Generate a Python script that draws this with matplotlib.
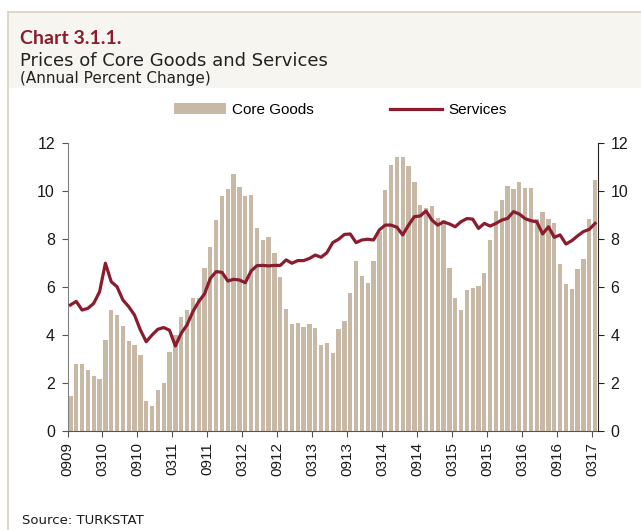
import matplotlib
matplotlib.use("Agg")
import matplotlib.pyplot as plt
from matplotlib.patches import Rectangle, Patch
from matplotlib.lines import Line2D

# monthly data, 2009-09 .. 2017-03
core_goods = [1.45, 2.78, 2.78, 2.55, 2.30, 2.15, 3.80, 5.05, 4.85, 4.38,
              3.75, 3.58, 3.18, 1.25, 1.04, 1.70, 2.00, 3.30, 4.00, 4.75,
              5.05, 5.55, 5.55, 6.78, 7.65, 8.80, 9.80, 10.10, 10.70, 10.15,
              9.80, 9.85, 8.45, 7.95, 8.10, 7.40, 6.40, 5.07, 4.45, 4.50,
              4.32, 4.45, 4.28, 3.58, 3.65, 3.25, 4.25, 4.58, 5.75, 7.10,
              6.45, 6.18, 7.10, 8.30, 10.05, 11.10, 11.40, 11.40, 11.05, 10.38,
              9.42, 9.28, 9.37, 8.88, 8.79, 6.80, 5.54, 5.06, 5.88, 5.96,
              6.06, 6.60, 7.96, 9.18, 9.63, 10.22, 10.10, 10.38, 10.13, 10.13,
              8.82, 9.14, 8.82, 8.65, 6.97, 6.14, 5.92, 6.76, 7.18, 8.82,
              10.46]
services = [5.25, 5.40, 5.04, 5.11, 5.32, 5.80, 6.99, 6.22, 6.01, 5.46,
            5.18, 4.83, 4.21, 3.72, 4.00, 4.24, 4.31, 4.20, 3.54, 4.07,
            4.42, 4.97, 5.39, 5.71, 6.36, 6.64, 6.61, 6.25, 6.32, 6.29,
            6.18, 6.67, 6.89, 6.90, 6.88, 6.90, 6.90, 7.13, 6.99, 7.10,
            7.10, 7.19, 7.33, 7.24, 7.43, 7.85, 7.99, 8.19, 8.21, 7.85,
            7.96, 7.99, 7.96, 8.38, 8.58, 8.58, 8.49, 8.17, 8.58, 8.93,
            8.96, 9.17, 8.79, 8.58, 8.71, 8.63, 8.51, 8.72, 8.85, 8.83,
            8.44, 8.65, 8.54, 8.65, 8.79, 8.86, 9.14, 9.04, 8.85, 8.76,
            8.72, 8.21, 8.51, 8.07, 8.17, 7.79, 7.93, 8.13, 8.31, 8.40,
            8.65]
tick_labels = ["0909", "0310", "0910", "0311", "0911", "0312", "0912", "0313",
               "0913", "0314", "0914", "0315", "0915", "0316", "0916", "0317"]

bar_col = "#c8b9a7"
line_col = "#8b1c2e"
txt = "#1a1a1a"

fig = plt.figure(figsize=(6.41, 5.30), dpi=100)
plt.rcParams['font.family'] = ['Liberation Sans', 'DejaVu Sans']

# header band and frame lines
fig.patches.append(Rectangle((8/641, 1 - 88/530), 1, (88 - 12)/530,
                             transform=fig.transFigure, facecolor="#f6f5f0",
                             edgecolor="none", zorder=0))
fig.add_artist(Line2D([8/641, 1], [1 - 12/530, 1 - 12/530], color="#d8d0c2", lw=1.2))
fig.add_artist(Line2D([8/641, 8/641], [0, 1 - 12/530], color="#d8d0c2", lw=1.2))

fig.text(20/641, 1 - 38/530, "Chart 3.1.1.", color=line_col, fontsize=14,
         fontweight="bold", va="center", family=["Lato", "DejaVu Sans"])
fig.text(20/641, 1 - 61/530, "Prices of Core Goods and Services", color="#222222",
         fontsize=13, va="center", family=["DejaVu Sans"])
fig.text(20/641, 1 - 78/530, "(Annual Percent Change)", color="#222222",
         fontsize=11, va="center", family=["DejaVu Sans"])
fig.text(22/641, 1 - 521/530, "Source: TURKSTAT", color=txt, fontsize=9.5,
         va="center", family=["DejaVu Sans"])

ax = fig.add_axes([67.5/641, 99/530, (598 - 67.5)/641, (431 - 143)/530])
x = list(range(len(core_goods)))
ax.bar(x, core_goods, width=0.74, color=bar_col, zorder=2)
ax.plot(x, services, color=line_col, lw=2.3, zorder=3)

ax.set_xlim(-0.5, len(core_goods) - 0.5)
ax.set_ylim(0, 12)
ax.set_yticks(range(0, 13, 2))
ax.set_xticks([i * 6 - 0.5 for i in range(len(tick_labels))])
ax.set_xticklabels(tick_labels, rotation=90, fontsize=11, color=txt)
ax.tick_params(axis="x", length=4, color="#555555", pad=4)
ax.tick_params(axis="y", length=4, color="#555555", labelsize=11.5, labelcolor=txt, pad=5)
for s in ["top", "right"]:
    ax.spines[s].set_visible(False)
ax.spines["left"].set_color("#808080")
ax.spines["bottom"].set_color("#555555")

ax2 = ax.twinx()
ax2.set_ylim(0, 12)
ax2.set_yticks(range(0, 13, 2))
ax2.tick_params(axis="y", length=4, color="#222222", labelsize=11.5, labelcolor=txt, pad=5)
for s in ["top", "left", "bottom"]:
    ax2.spines[s].set_visible(False)
ax2.spines["right"].set_color("#222222")

handles = [Patch(facecolor=bar_col, edgecolor="none", label="Core Goods"),
           Line2D([], [], color=line_col, lw=2.3, label="Services")]
fig.legend(handles=handles, loc="center", bbox_to_anchor=(340/641, 1 - 110/530),
           ncol=2, frameon=False, fontsize=11, handlelength=3.4,
           handletextpad=0.4, columnspacing=5.0)

fig.savefig("out.png", dpi=100)
